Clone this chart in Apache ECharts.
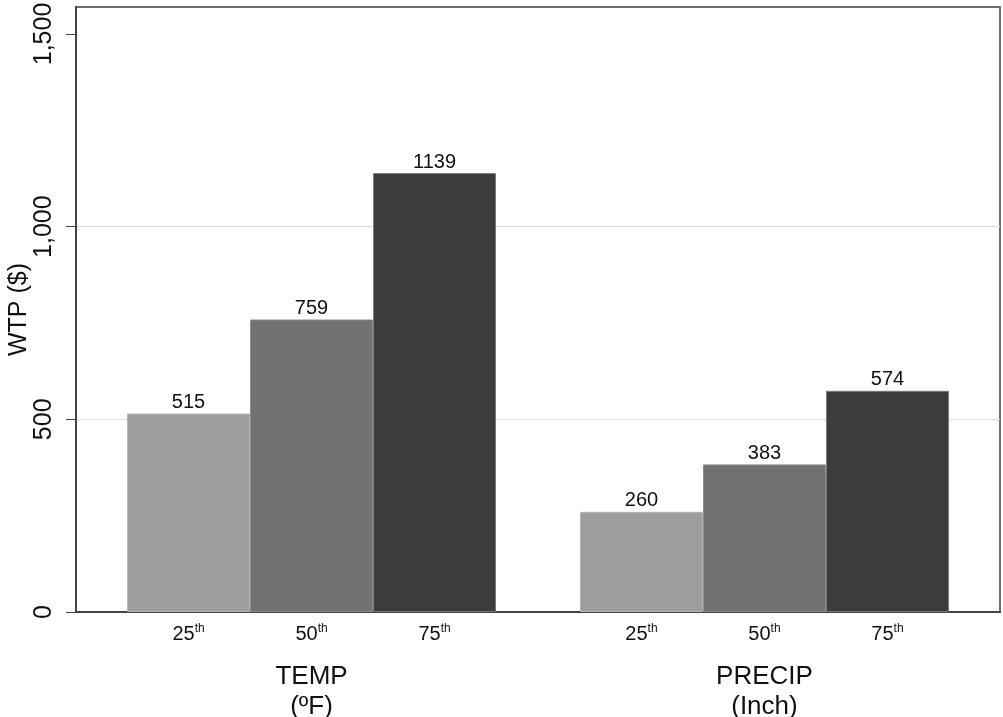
<!DOCTYPE html>
<html>
<head>
<meta charset="utf-8">
<script src="https://cdn.jsdelivr.net/npm/echarts@6/dist/echarts.min.js"></script>
<style>html,body{margin:0;padding:0;background:#fff;}#c{width:1003px;height:717px;}</style>
</head>
<body>
<div id="c"></div>
<script>
const groups = ['TEMP\n(ºF)', 'PRECIP\n(Inch)'];
const percentiles = ['25', '50', '75'];
const p25 = [515, 260];
const p50 = [759, 383];
const p75 = [1139, 574];
const yTicks = [0, 500, 1000, 1500];

const colors = ['#9d9e9d', '#727272', '#3c3c3c'];
const borders = ['#b4b5b4', '#8c8c8c', '#7a7a7a'];
const values = [p25, p50, p75];
const FONT = '"Liberation Sans", Arial, Helvetica, sans-serif';
const groupIdx = groups.map((g, i) => i);

const series = [];
percentiles.forEach((p, i) => {
  series.push({
    type: 'bar', stack: 's' + i, data: groupIdx.map(g => [g, 0]),
    itemStyle: { color: 'transparent' }, silent: true,
    label: {
      show: true, position: 'bottom', distance: 11,
      formatter: '{n|' + p + '}{s|th}',
      rich: {
        n: { fontSize: 20, fontFamily: FONT, color: '#111', lineHeight: 22 },
        s: { fontSize: 12, fontFamily: FONT, color: '#111', verticalAlign: 'top', lineHeight: 22, padding: [0, 0, 9, 0] }
      }
    }
  });
  series.push({
    type: 'bar', stack: 's' + i, data: groupIdx.map(g => [g, values[i][g]]),
    itemStyle: { color: colors[i], borderColor: borders[i], borderWidth: 1 },
    label: { show: true, position: 'top', distance: 1, fontSize: 20, fontFamily: FONT, color: '#111',
             formatter: prm => prm.value[1] }
  });
});

const chart = echarts.init(document.getElementById('c'), null, { renderer: 'canvas' });
chart.setOption({
  animation: false,
  backgroundColor: '#fff',
  grid: { left: 76, right: 3, top: 7, bottom: 105, outerBoundsMode: 'none', containLabel: false,
          show: true, borderColor: '#6e6e6e', borderWidth: 2, backgroundColor: 'transparent' },
  xAxis: {
    type: 'value', min: -0.52, max: 1.52,
    axisLine: { show: true, onZero: false, lineStyle: { color: '#444', width: 2 } },
    axisTick: { show: false },
    splitLine: { show: false },
    axisLabel: { margin: 50, fontSize: 26, lineHeight: 30, fontFamily: FONT, color: '#111',
                 customValues: groupIdx, formatter: v => groups[Math.round(v)] || '' }
  },
  yAxis: {
    type: 'value', min: 0, max: 1570, interval: 500,
    name: 'WTP ($)', nameLocation: 'middle', nameGap: 44, nameRotate: 90, nameMoveOverlap: false,
    nameTextStyle: { fontSize: 25, fontFamily: FONT, color: '#111' },
    axisLine: { show: true, onZero: false, lineStyle: { color: '#444', width: 2 } },
    axisTick: { show: true, length: 10, customValues: yTicks, lineStyle: { color: '#444', width: 1 } },
    axisLabel: {
      rotate: 90, margin: 19, fontSize: 25, fontFamily: FONT, color: '#111', customValues: yTicks,
      formatter: v => yTicks.includes(v) ? v.toLocaleString('en-US') : ''
    },
    splitLine: { show: true, lineStyle: { color: ['transparent', '#dcdcdc', '#dcdcdc', 'transparent', 'transparent'], width: 1 } }
  },
  series: series.map(s => Object.assign(s, { barGap: '0%', barWidth: 123 }))
});
</script>
</body>
</html>
